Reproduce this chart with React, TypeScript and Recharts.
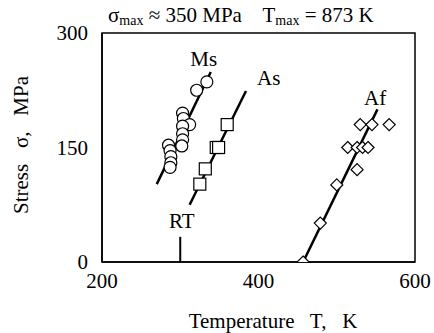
import React from 'react';
import {
  ComposedChart,
  Scatter,
  XAxis,
  YAxis,
  ReferenceArea,
  ReferenceLine,
  ReferenceDot,
} from 'recharts';

// temperature T (K), stress s (MPa)
const msPoints = [
  { t: 334, s: 236 }, { t: 321, s: 225 },
  { t: 303, s: 195 }, { t: 304, s: 188 }, { t: 312, s: 180 }, { t: 303, s: 178 },
  { t: 303, s: 168 }, { t: 303, s: 160 }, { t: 302, s: 152 },
  { t: 285, s: 153 }, { t: 287, s: 146 }, { t: 288, s: 138 }, { t: 288, s: 130 }, { t: 287, s: 124 },
];
const asPoints = [
  { t: 360, s: 180 }, { t: 346, s: 150 }, { t: 349, s: 150 }, { t: 332, s: 122 }, { t: 325, s: 102 },
];
const afPoints = [
  { t: 530, s: 180 }, { t: 545, s: 180 }, { t: 567, s: 180 },
  { t: 514, s: 150 }, { t: 526, s: 150 }, { t: 533, s: 150 }, { t: 540, s: 150 },
  { t: 526, s: 121 }, { t: 500, s: 101 }, { t: 479, s: 51 }, { t: 457, s: 0 },
];
const msFit = [{ t: 270, s: 102 }, { t: 339, s: 249 }];
const asFit = [{ t: 312, s: 75 }, { t: 384, s: 224 }];
const afFit = [{ t: 457, s: 0 }, { t: 552, s: 200 }];

const xTicks = [200, 400, 600];
const xMinorTicks = [300, 400, 500];
const yTicks = [0, 150, 300];
const yMinorTicks = [75, 150, 225];
const roomTemp = 300;

const font = '"Liberation Serif", "Times New Roman", serif';
const fs = 21;

const Circle = (p: any) => (
  <circle cx={p.cx} cy={p.cy} r={6} fill="#fff" stroke="#000" strokeWidth={1.2} />
);
const Square = (p: any) => (
  <rect x={p.cx - 6} y={p.cy - 6} width={12} height={12} fill="#fff" stroke="#000" strokeWidth={1.2} />
);
const Diamond = (p: any) => (
  <path
    d={`M${p.cx},${p.cy - 6} L${p.cx + 6},${p.cy} L${p.cx},${p.cy + 6} L${p.cx - 6},${p.cy} Z`}
    fill="#fff"
    stroke="#000"
    strokeWidth={1.2}
  />
);
const NoDot = () => <g />;

const fitLine = { stroke: '#000', strokeWidth: 2.5 };
const textStyle = { fill: '#000', fontSize: fs, fontFamily: font };

export default function App() {
  return (
    <div style={{ position: 'absolute', left: 0, top: 0, width: 434, height: 333, background: '#fff', fontFamily: font }}>
      <ComposedChart
        width={434}
        height={333}
        margin={{ top: 33, right: 19, bottom: 41, left: 0 }}
      >
        <XAxis
          type="number"
          dataKey="t"
          domain={[200, 600]}
          ticks={xTicks}
          tickLine={false}
          tickSize={6}
          tickMargin={5}
          height={30}
          axisLine={{ stroke: '#000', strokeWidth: 1.5 }}
          tick={textStyle}
          allowDataOverflow
        />
        <XAxis
          xAxisId="m"
          type="number"
          dataKey="t"
          domain={[200, 600]}
          ticks={xMinorTicks}
          mirror
          tickSize={13}
          axisLine={false}
          tickLine={{ stroke: '#000', strokeWidth: 1.2 }}
          tickFormatter={() => ''}
        />
        <YAxis
          type="number"
          dataKey="s"
          domain={[0, 300]}
          ticks={yTicks}
          width={102}
          tickLine={false}
          tickSize={6}
          tickMargin={8}
          axisLine={{ stroke: '#000', strokeWidth: 1.5 }}
          tick={textStyle}
          allowDataOverflow
        />
        <YAxis
          yAxisId="m"
          type="number"
          dataKey="s"
          domain={[0, 300]}
          ticks={yMinorTicks}
          mirror
          tickSize={13}
          axisLine={false}
          tickLine={{ stroke: '#000', strokeWidth: 1.2 }}
          tickFormatter={() => ''}
        />
        <ReferenceArea x1={200} x2={600} y1={0} y2={300} fill="none" stroke="#000" strokeWidth={1.5} ifOverflow="visible" />
        <ReferenceLine
          segment={[{ x: roomTemp, y: 0 }, { x: roomTemp, y: 33 }]}
          stroke="#000"
          strokeWidth={2}
        />
        <Scatter data={msFit} line={fitLine} shape={NoDot} isAnimationActive={false} />
        <Scatter data={asFit} line={fitLine} shape={NoDot} isAnimationActive={false} />
        <Scatter data={afFit} line={fitLine} shape={NoDot} isAnimationActive={false} />
        <Scatter data={msPoints} shape={Circle} isAnimationActive={false} />
        <Scatter data={asPoints} shape={Square} isAnimationActive={false} />
        <Scatter data={afPoints} shape={Diamond} isAnimationActive={false} />
        <ReferenceDot x={330} y={267} r={0} fill="none" stroke="none" label={{ value: 'Ms', position: 'center', ...textStyle }} />
        <ReferenceDot x={413} y={241} r={0} fill="none" stroke="none" label={{ value: 'As', position: 'center', ...textStyle }} />
        <ReferenceDot x={549} y={215} r={0} fill="none" stroke="none" label={{ value: 'Af', position: 'center', ...textStyle }} />
        <ReferenceDot x={302} y={54} r={0} fill="none" stroke="none" label={{ value: 'RT', position: 'center', ...textStyle }} />
      </ComposedChart>

      <div style={{ position: 'absolute', left: 108, top: 3, fontSize: fs, whiteSpace: 'pre', lineHeight: '24px' }}>
        σ<sub style={{ fontSize: 14, verticalAlign: '-3px' }}>max</sub>{' ≈ 350 MPa    T'}
        <sub style={{ fontSize: 14, verticalAlign: '-3px' }}>max</sub>{' = 873 K'}
      </div>
      <div style={{ position: 'absolute', left: 163, top: 309, width: 220, textAlign: 'center', fontSize: fs, whiteSpace: 'pre', lineHeight: '24px' }}>
        {'Temperature   T,   K'}
      </div>
      <div
        style={{
          position: 'absolute',
          left: 21 - 100,
          top: 145 - 12,
          width: 200,
          textAlign: 'center',
          fontSize: fs,
          whiteSpace: 'pre',
          lineHeight: '24px',
          transform: 'rotate(-90deg)',
        }}
      >
        {'Stress   σ,   MPa'}
      </div>
    </div>
  );
}
